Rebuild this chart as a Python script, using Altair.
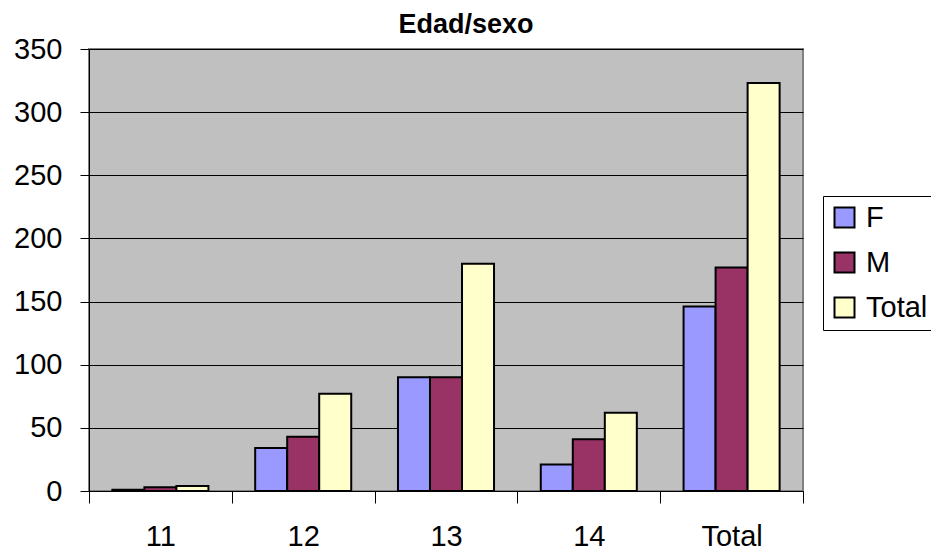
import altair as alt
import pandas as pd

# Age groups and counts by sex
categories = ["11", "12", "13", "14", "Total"]
series = ["F", "M", "Total"]
f_values = [1, 34, 90, 21, 146]
m_values = [3, 43, 90, 41, 177]
total_values = [4, 77, 180, 62, 323]

rows = []
for i, cat in enumerate(categories):
    for s, vals in zip(series, [f_values, m_values, total_values]):
        rows.append({"edad": cat, "serie": s, "valor": vals[i]})
df = pd.DataFrame(rows)

colors = ["#9999FF", "#993366", "#FFFFCC"]
font = "Liberation Sans"

chart = (
    alt.Chart(df, title=alt.TitleParams("Edad/sexo", fontSize=27, fontWeight="bold",
                                        font=font, dx=20, offset=-4, color="black"))
    .mark_bar(stroke="black", strokeWidth=2)
    .encode(
        x=alt.X("edad:N", sort=categories, title=None,
                scale=alt.Scale(paddingInner=0, paddingOuter=0),
                axis=alt.Axis(labelAngle=0, labelFontSize=29, labelFont=font,
                              labelColor="black", tickBand="extent", tickSize=12,
                              tickColor="black", domainColor="black", labelPadding=19,
                              grid=False)),
        xOffset=alt.XOffset("serie:N", sort=series,
                            scale=alt.Scale(paddingInner=0, paddingOuter=0.73)),
        y=alt.Y("valor:Q", title=None,
                scale=alt.Scale(domain=[0, 350], nice=False),
                axis=alt.Axis(values=list(range(0, 351, 50)), labelFontSize=29,
                              labelFont=font, labelColor="black", tickSize=9,
                              tickColor="black", domainColor="black", gridColor="black",
                              gridOpacity=1, labelPadding=18)),
        color=alt.Color("serie:N", sort=series,
                        scale=alt.Scale(domain=series, range=colors),
                        legend=alt.Legend(title=None, orient="none", legendX=734, legendY=147,
                                          symbolType="square", symbolSize=400,
                                          symbolStrokeColor="black", symbolStrokeWidth=2,
                                          labelFontSize=29, labelFont=font, labelColor="black",
                                          rowPadding=15, padding=7, strokeColor="black",
                                          labelOffset=7)),
    )
    .properties(width=714, height=442, background="white",
                padding={"left": 89, "top": 49, "right": 128, "bottom": 60},
                autosize=alt.AutoSizeParams(type="none"))
    .configure_view(fill="#C0C0C0", stroke="#808080", strokeWidth=2)
)

chart.save("out.html", embed_options={"renderer": "svg", "actions": False})
